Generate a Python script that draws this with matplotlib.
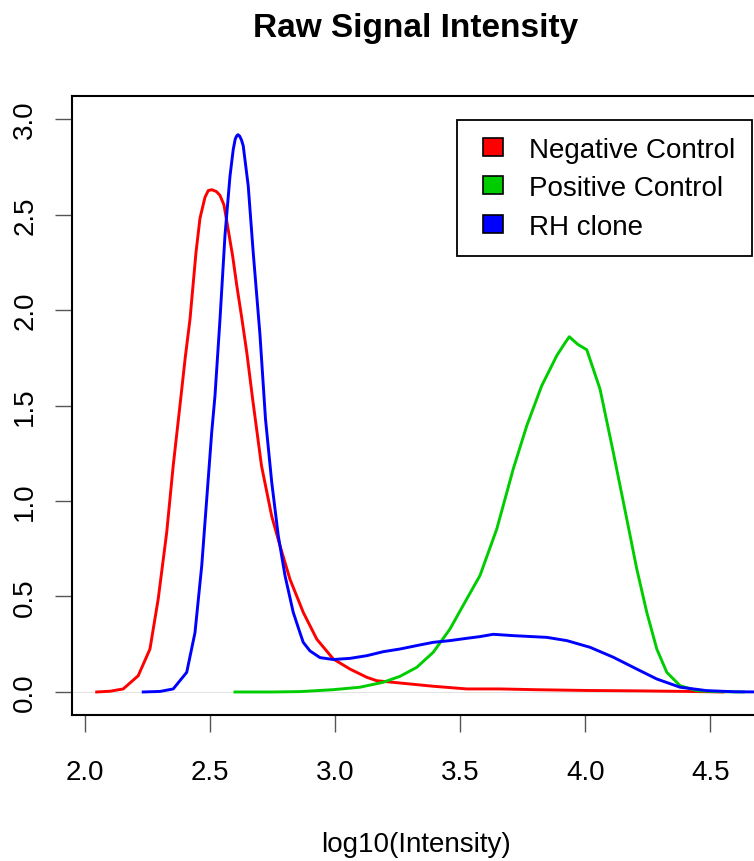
import matplotlib
matplotlib.use("Agg")
import matplotlib.pyplot as plt
from matplotlib.patches import Patch, Rectangle
from matplotlib.legend_handler import HandlerPatch

plt.rcParams['font.family'] = ['Liberation Sans', 'DejaVu Sans']

# density curves (x = log10 intensity, y = density)
neg_x = [2.046, 2.10, 2.152, 2.212, 2.259, 2.292, 2.326, 2.352, 2.379, 2.40, 2.419,
         2.443, 2.459, 2.479, 2.492, 2.506, 2.525, 2.539, 2.555, 2.572, 2.59, 2.606,
         2.626, 2.646, 2.67, 2.705, 2.746, 2.779, 2.819, 2.859, 2.872, 2.926, 2.992,
         3.059, 3.126, 3.166, 3.259, 3.392, 3.526, 3.659, 3.8, 4.0, 4.2, 4.4, 4.55]
neg_y = [0.0, 0.004, 0.016, 0.085, 0.225, 0.487, 0.836, 1.185, 1.50, 1.75, 1.95,
         2.30, 2.48, 2.59, 2.625, 2.63, 2.62, 2.60, 2.55, 2.42, 2.28, 2.13,
         1.96, 1.78, 1.53, 1.185, 0.92, 0.766, 0.59, 0.46, 0.417, 0.277, 0.173,
         0.12, 0.077, 0.059, 0.047, 0.030, 0.016, 0.016, 0.012, 0.008, 0.006, 0.003, 0.0]

pos_x = [2.599, 2.75, 2.859, 2.992, 3.099, 3.192, 3.259, 3.326, 3.392, 3.459, 3.526,
         3.579, 3.646, 3.712, 3.766, 3.826, 3.886, 3.915, 3.936, 3.97, 4.006, 4.059,
         4.112, 4.166, 4.206, 4.246, 4.286, 4.326, 4.379, 4.446, 4.512, 4.632]
pos_y = [0.0, 0.0, 0.002, 0.012, 0.025, 0.051, 0.082, 0.129, 0.208, 0.33, 0.487,
         0.61, 0.853, 1.168, 1.394, 1.604, 1.761, 1.82, 1.86, 1.82, 1.792, 1.586,
         1.255, 0.906, 0.644, 0.417, 0.225, 0.103, 0.033, 0.007, 0.002, 0.0]

rh_x = [2.232, 2.30, 2.352, 2.406, 2.439, 2.466, 2.486, 2.506, 2.519, 2.539, 2.559,
        2.579, 2.592, 2.60, 2.606, 2.611, 2.618, 2.625, 2.632, 2.652, 2.672, 2.699,
        2.721, 2.746, 2.772, 2.799, 2.832, 2.859, 2.872, 2.899, 2.939, 2.992, 3.059,
        3.126, 3.192, 3.259, 3.326, 3.392, 3.459, 3.526, 3.579, 3.632, 3.712, 3.846,
        3.926, 4.019, 4.112, 4.206, 4.286, 4.379, 4.486, 4.6, 4.72]
rh_y = [0.0, 0.003, 0.016, 0.103, 0.31, 0.66, 1.01, 1.36, 1.55, 1.95, 2.39,
        2.70, 2.84, 2.895, 2.912, 2.918, 2.91, 2.89, 2.86, 2.65, 2.30, 1.87,
        1.43, 1.098, 0.82, 0.61, 0.417, 0.31, 0.26, 0.215, 0.18, 0.17, 0.176,
        0.19, 0.211, 0.225, 0.243, 0.26, 0.269, 0.281, 0.29, 0.302, 0.295, 0.286,
        0.269, 0.234, 0.182, 0.12, 0.068, 0.025, 0.007, 0.001, 0.0]

labels = ['Negative Control', 'Positive Control', 'RH clone']
colors = ['#FF0000', '#00CD00', '#0000FF']
xticks = [2.0, 2.5, 3.0, 3.5, 4.0, 4.5]
yticks = [0.0, 0.5, 1.0, 1.5, 2.0, 2.5, 3.0]


def fill_box(legend, orig_handle, xdescent, ydescent, width, height, fontsize):
    # R-style legend square, pushed to the right end of the handle box
    w = 14.4
    return Rectangle((-xdescent + width - w, -ydescent), w, height)


fig = plt.figure(figsize=(7.54, 8.62), dpi=100)
ax = fig.add_axes([71.7 / 754, (862 - 715.9) / 862, 688.6 / 754, 618.8 / 862])

ax.axhline(0, color='#dddddd', lw=0.6, zorder=1)
for xs, ys, c in zip([neg_x, pos_x, rh_x], [neg_y, pos_y, rh_y], colors):
    ax.plot(xs, ys, color=c, lw=2.1, zorder=2)

ax.set_xlim(1.946, 4.70)
ax.set_ylim(-0.12, 3.12)
ax.set_xticks(xticks)
ax.set_xticklabels(['%.1f' % v for v in xticks])
ax.set_yticks(yticks)
ax.set_yticklabels(['%.1f' % v for v in yticks], rotation=90, va='center')
ax.tick_params(axis='both', direction='out', length=12, width=1, color='#555555',
               labelsize=20)
ax.tick_params(axis='x', pad=20)
ax.tick_params(axis='y', pad=12)
for s in ax.spines.values():
    s.set_linewidth(1.5)

fig.text(416 / 754, 1 - 28 / 862, 'Raw Signal Intensity', ha='center', va='center',
         fontsize=24, fontweight='bold')
fig.text(416 / 754, 1 - 845 / 862, 'log10(Intensity)', ha='center', va='center',
         fontsize=20)

handles = [Patch(facecolor=c, edgecolor='black', lw=1.2) for c in colors]
leg = ax.legend(handles, labels, loc='upper left', bbox_to_anchor=(457 / 754, 1 - 121 / 862),
                bbox_transform=fig.transFigure, borderaxespad=0, fontsize=20,
                frameon=True, fancybox=False, edgecolor='black', framealpha=1,
                handlelength=1.05, handleheight=0.61, handletextpad=0.93,
                labelspacing=0.45, borderpad=0.6,
                handler_map={Patch: HandlerPatch(patch_func=fill_box)})
leg.get_frame().set_linewidth(1.3)

fig.savefig('out.png', dpi=100)
